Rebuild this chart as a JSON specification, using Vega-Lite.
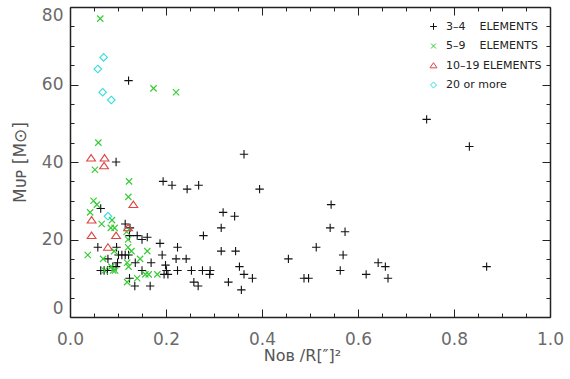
{
  "$schema": "https://vega.github.io/schema/vega-lite/v6.json",
  "width": 480,
  "height": 310,
  "autosize": {"type": "none"},
  "padding": {"left": 70, "top": 7, "right": 20, "bottom": 62},
  "background": "white",
  "config": {
    "view": {"stroke": null},
    "axis": {
      "grid": false,
      "domainColor": "#222",
      "domainWidth": 1.5,
      "tickColor": "#222",
      "tickWidth": 1,
      "labelFont": "DejaVu Sans",
      "labelColor": "#6a6a6a",
      "labelFontSize": 17,
      "titleFont": "DejaVu Sans",
      "titleColor": "#555",
      "titleFontWeight": "normal",
      "titleFontSize": 16,
      "labelOverlap": false,
      "labelFlush": false
    }
  },
  "data": {
    "values": [
      {"x": 0.122, "y": 61, "g": "a"}, {"x": 0.096, "y": 40, "g": "a"}, {"x": 0.743, "y": 51, "g": "a"},
      {"x": 0.832, "y": 44, "g": "a"}, {"x": 0.868, "y": 13, "g": "a"}, {"x": 0.3625, "y": 42, "g": "a"},
      {"x": 0.395, "y": 33, "g": "a"}, {"x": 0.544, "y": 29, "g": "a"}, {"x": 0.542, "y": 23, "g": "a"},
      {"x": 0.573, "y": 22, "g": "a"}, {"x": 0.513, "y": 18, "g": "a"}, {"x": 0.569, "y": 16, "g": "a"},
      {"x": 0.563, "y": 12, "g": "a"}, {"x": 0.455, "y": 15, "g": "a"}, {"x": 0.4875, "y": 10, "g": "a"},
      {"x": 0.497, "y": 10, "g": "a"}, {"x": 0.617, "y": 11, "g": "a"}, {"x": 0.642, "y": 14, "g": "a"},
      {"x": 0.657, "y": 13, "g": "a"}, {"x": 0.6625, "y": 10, "g": "a"}, {"x": 0.319, "y": 27, "g": "a"},
      {"x": 0.315, "y": 23, "g": "a"}, {"x": 0.343, "y": 26, "g": "a"}, {"x": 0.315, "y": 17, "g": "a"},
      {"x": 0.345, "y": 17, "g": "a"}, {"x": 0.353, "y": 13, "g": "a"}, {"x": 0.3625, "y": 11, "g": "a"},
      {"x": 0.38, "y": 10, "g": "a"}, {"x": 0.33, "y": 9, "g": "a"}, {"x": 0.357, "y": 7, "g": "a"},
      {"x": 0.278, "y": 21, "g": "a"}, {"x": 0.276, "y": 12, "g": "a"}, {"x": 0.292, "y": 12, "g": "a"},
      {"x": 0.291, "y": 11, "g": "a"}, {"x": 0.194, "y": 35, "g": "a"}, {"x": 0.2125, "y": 34, "g": "a"},
      {"x": 0.244, "y": 33, "g": "a"}, {"x": 0.268, "y": 34, "g": "a"}, {"x": 0.064, "y": 28, "g": "a"},
      {"x": 0.115, "y": 24, "g": "a"}, {"x": 0.125, "y": 23, "g": "a"}, {"x": 0.124, "y": 21, "g": "a"},
      {"x": 0.14, "y": 21, "g": "a"}, {"x": 0.161, "y": 20.6, "g": "a"}, {"x": 0.15, "y": 20, "g": "a"},
      {"x": 0.058, "y": 18, "g": "a"}, {"x": 0.097, "y": 18, "g": "a"}, {"x": 0.1875, "y": 19, "g": "a"},
      {"x": 0.224, "y": 18, "g": "a"}, {"x": 0.079, "y": 15, "g": "a"}, {"x": 0.101, "y": 16, "g": "a"},
      {"x": 0.108, "y": 16, "g": "a"}, {"x": 0.115, "y": 16, "g": "a"}, {"x": 0.122, "y": 16, "g": "a"},
      {"x": 0.099, "y": 14, "g": "a"}, {"x": 0.089, "y": 13, "g": "a"}, {"x": 0.096, "y": 13, "g": "a"},
      {"x": 0.064, "y": 12, "g": "a"}, {"x": 0.078, "y": 12, "g": "a"}, {"x": 0.071, "y": 12, "g": "a"},
      {"x": 0.136, "y": 14, "g": "a"}, {"x": 0.15, "y": 12, "g": "a"}, {"x": 0.169, "y": 14, "g": "a"},
      {"x": 0.192, "y": 16, "g": "a"}, {"x": 0.199, "y": 13.4, "g": "a"}, {"x": 0.201, "y": 12, "g": "a"},
      {"x": 0.196, "y": 11, "g": "a"}, {"x": 0.204, "y": 11, "g": "a"}, {"x": 0.221, "y": 15, "g": "a"},
      {"x": 0.242, "y": 15, "g": "a"}, {"x": 0.224, "y": 12, "g": "a"}, {"x": 0.253, "y": 12, "g": "a"},
      {"x": 0.258, "y": 9, "g": "a"}, {"x": 0.267, "y": 8, "g": "a"}, {"x": 0.124, "y": 10, "g": "a"},
      {"x": 0.135, "y": 8, "g": "a"}, {"x": 0.167, "y": 8, "g": "a"},
      {"x": 0.063, "y": 77, "g": "b"}, {"x": 0.174, "y": 59, "g": "b"}, {"x": 0.221, "y": 58, "g": "b"},
      {"x": 0.059, "y": 45, "g": "b"}, {"x": 0.052, "y": 38, "g": "b"}, {"x": 0.123, "y": 35, "g": "b"},
      {"x": 0.1215, "y": 31, "g": "b"}, {"x": 0.049, "y": 30, "g": "b"}, {"x": 0.056, "y": 29, "g": "b"},
      {"x": 0.042, "y": 27, "g": "b"}, {"x": 0.0875, "y": 25, "g": "b"}, {"x": 0.066, "y": 24, "g": "b"},
      {"x": 0.085, "y": 23, "g": "b"}, {"x": 0.093, "y": 23, "g": "b"}, {"x": 0.118, "y": 22, "g": "b"},
      {"x": 0.121, "y": 20, "g": "b"}, {"x": 0.121, "y": 18, "g": "b"}, {"x": 0.092, "y": 17, "g": "b"},
      {"x": 0.128, "y": 17, "g": "b"}, {"x": 0.161, "y": 17, "g": "b"}, {"x": 0.037, "y": 16, "g": "b"},
      {"x": 0.069, "y": 15, "g": "b"}, {"x": 0.146, "y": 15, "g": "b"}, {"x": 0.119, "y": 14, "g": "b"},
      {"x": 0.122, "y": 13, "g": "b"}, {"x": 0.072, "y": 12, "g": "b"}, {"x": 0.09, "y": 12, "g": "b"},
      {"x": 0.094, "y": 12, "g": "b"}, {"x": 0.086, "y": 13, "g": "b"}, {"x": 0.157, "y": 11, "g": "b"},
      {"x": 0.164, "y": 11, "g": "b"}, {"x": 0.182, "y": 11, "g": "b"}, {"x": 0.119, "y": 9, "g": "b"},
      {"x": 0.14, "y": 10, "g": "b"},
      {"x": 0.044, "y": 41, "g": "c"}, {"x": 0.072, "y": 41, "g": "c"}, {"x": 0.071, "y": 39, "g": "c"},
      {"x": 0.045, "y": 25, "g": "c"}, {"x": 0.045, "y": 21, "g": "c"}, {"x": 0.132, "y": 29, "g": "c"},
      {"x": 0.121, "y": 23, "g": "c"}, {"x": 0.096, "y": 21, "g": "c"}, {"x": 0.079, "y": 18, "g": "c"},
      {"x": 0.07, "y": 67, "g": "d"}, {"x": 0.058, "y": 64, "g": "d"}, {"x": 0.068, "y": 58, "g": "d"},
      {"x": 0.086, "y": 56, "g": "d"}, {"x": 0.079, "y": 26, "g": "d"}
    ]
  },
  "resolve": {"axis": {"x": "independent", "y": "independent"}},
  "layer": [
    {
      "mark": {"type": "point", "filled": false, "strokeWidth": 1.1, "size": 70, "opacity": 1},
      "encoding": {
        "x": {
          "field": "x", "type": "quantitative",
          "scale": {"domain": [0, 1], "nice": false, "zero": false},
          "axis": {
            "orient": "bottom",
            "values": [0, 0.2, 0.4, 0.6, 0.8, 1],
            "format": ".1f",
            "tickSize": -8,
            "labelPadding": 22,
            "title": "N\u1d0f\u0299 /R[\u2033]\u00b2",
            "titleX": 232,
            "titleY": 43,
            "titleBaseline": "alphabetic"
          }
        },
        "y": {
          "field": "y", "type": "quantitative",
          "scale": {"domain": [0, 80], "nice": false, "zero": false},
          "axis": {
            "orient": "left",
            "values": [0, 20, 40, 60, 80],
            "tickSize": -8,
            "labelPadding": 15,
            "labelFlush": true,
            "title": "M\u1d1c\u1d18  [M\u2299]",
            "titleFontSize": 17,
            "titlePadding": 12
          }
        },
        "shape": {
          "field": "g", "type": "nominal",
          "scale": {
            "domain": ["a", "b", "c", "d"],
            "range": ["M-1,0H1M0,-1V1", "M-0.75,-0.75L0.75,0.75M-0.75,0.75L0.75,-0.75", "M0,-0.85L1.05,0.7L-1.05,0.7Z", "M0,-0.9L0.9,0L0,0.9L-0.9,0Z"]
          },
          "legend": {
            "title": null, "orient": "none", "legendX": 358, "legendY": 14, "padding": 0,
            "labelExpr": "{'a':'3\u20134\u00a0\u00a0\u00a0\u00a0ELEMENTS','b':'5\u20139\u00a0\u00a0\u00a0\u00a0ELEMENTS','c':'10\u201319 ELEMENTS','d':'20 or more'}[datum.value]",
            "labelFont": "DejaVu Sans", "labelFontSize": 11, "labelColor": "#222",
            "symbolSize": 45, "symbolStrokeWidth": 1, "rowPadding": 7.5, "labelOffset": 7
          }
        },
        "color": {
          "field": "g", "type": "nominal",
          "scale": {"domain": ["a", "b", "c", "d"], "range": ["#111111", "#33cc33", "#dd4444", "#33dddd"]},
          "legend": {
            "title": null, "orient": "none", "legendX": 358, "legendY": 14, "padding": 0,
            "labelExpr": "{'a':'3\u20134\u00a0\u00a0\u00a0\u00a0ELEMENTS','b':'5\u20139\u00a0\u00a0\u00a0\u00a0ELEMENTS','c':'10\u201319 ELEMENTS','d':'20 or more'}[datum.value]",
            "labelFont": "DejaVu Sans", "labelFontSize": 11, "labelColor": "#222",
            "symbolSize": 45, "symbolStrokeWidth": 1, "rowPadding": 7.5, "labelOffset": 7
          }
        }
      }
    },
    {
      "mark": {"type": "point", "opacity": 0},
      "encoding": {
        "x": {
          "field": "x", "type": "quantitative",
          "scale": {"domain": [0, 1], "nice": false, "zero": false},
          "axis": {"orient": "top", "labels": false, "title": null, "values": [0, 0.2, 0.4, 0.6, 0.8, 1], "tickSize": -8}
        },
        "y": {
          "field": "y", "type": "quantitative",
          "scale": {"domain": [0, 80], "nice": false, "zero": false},
          "axis": {"orient": "right", "labels": false, "title": null, "values": [0, 20, 40, 60, 80], "tickSize": -8}
        }
      }
    },
    {
      "mark": {"type": "point", "opacity": 0},
      "encoding": {
        "x": {
          "field": "x", "type": "quantitative",
          "scale": {"domain": [0, 1], "nice": false, "zero": false},
          "axis": {"orient": "bottom", "labels": false, "title": null, "domain": false, "values": [0.05, 0.1, 0.15, 0.25, 0.3, 0.35, 0.45, 0.5, 0.55, 0.65, 0.7, 0.75, 0.85, 0.9, 0.95], "tickSize": -4}
        },
        "y": {
          "field": "y", "type": "quantitative",
          "scale": {"domain": [0, 80], "nice": false, "zero": false},
          "axis": {"orient": "left", "labels": false, "title": null, "domain": false, "values": [5, 10, 15, 25, 30, 35, 45, 50, 55, 65, 70, 75], "tickSize": -4}
        }
      }
    },
    {
      "mark": {"type": "point", "opacity": 0},
      "encoding": {
        "x": {
          "field": "x", "type": "quantitative",
          "scale": {"domain": [0, 1], "nice": false, "zero": false},
          "axis": {"orient": "top", "labels": false, "title": null, "domain": false, "values": [0.05, 0.1, 0.15, 0.25, 0.3, 0.35, 0.45, 0.5, 0.55, 0.65, 0.7, 0.75, 0.85, 0.9, 0.95], "tickSize": -4}
        },
        "y": {
          "field": "y", "type": "quantitative",
          "scale": {"domain": [0, 80], "nice": false, "zero": false},
          "axis": {"orient": "right", "labels": false, "title": null, "domain": false, "values": [5, 10, 15, 25, 30, 35, 45, 50, 55, 65, 70, 75], "tickSize": -4}
        }
      }
    }
  ]
}
